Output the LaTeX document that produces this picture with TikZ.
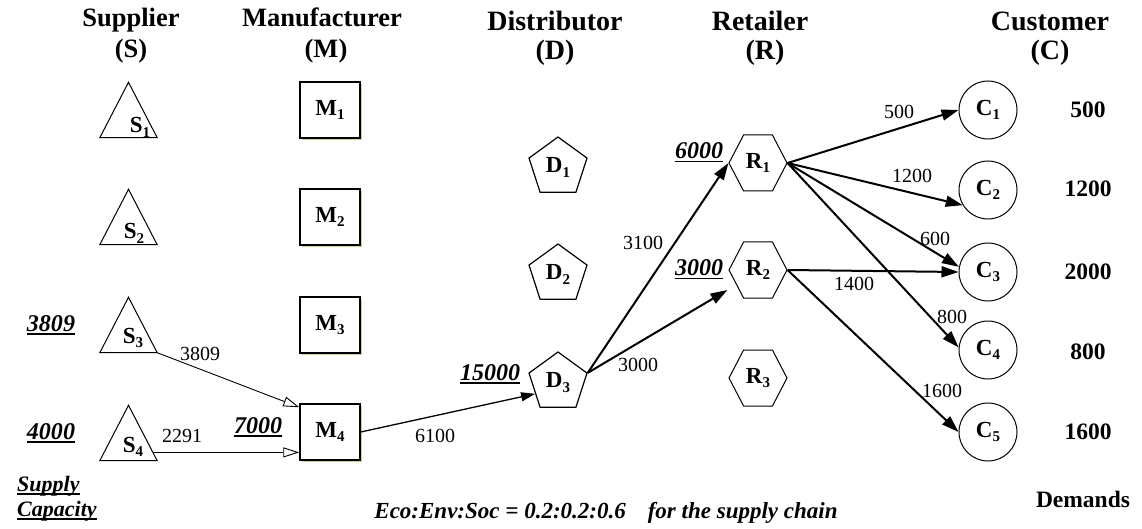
\documentclass[tikz,border=0pt]{standalone}
\usepackage{fontspec}
\setmainfont{Liberation Serif}
\usetikzlibrary{arrows.meta,shapes.geometric,shapes.symbols,shadows,calc}
\definecolor{shadegreen}{RGB}{195,214,155}
\newcommand\sbs[1]{\raisebox{-4.5pt}{\fontsize{15}{15}\selectfont #1}}
\newcommand\capu[1]{\setbox0\hbox{#1}\rlap{\rule[-3.5pt]{\wd0}{1.8pt}}\box0}
\tikzset{
  ttl/.style={font=\fontsize{26.5}{28}\selectfont\bfseries, anchor=base, inner sep=0},
  ttlb/.style={font=\fontsize{28}{30}\selectfont\bfseries, anchor=base, inner sep=0},
  lab/.style={font=\fontsize{23}{25}\selectfont\bfseries, inner sep=0},
  capn/.style={font=\fontsize{24}{26}\selectfont\bfseries\itshape, anchor=base, inner sep=0},
  flow/.style={font=\fontsize{20}{22}\selectfont, anchor=base, inner sep=0},
  dem/.style={font=\fontsize{23.5}{25}\selectfont\bfseries, anchor=base, inner sep=0},
  sq/.style={draw, line width=1.5pt, minimum width=60pt, minimum height=56pt, inner sep=0, fill=white,
     general shadow={fill=shadegreen, shadow xshift=2pt, shadow yshift=-2pt}, lab},
  tribox/.style={minimum width=57pt, minimum height=55pt, inner sep=0},
  tri/.style={line width=1pt, line join=miter},
  pent/.style={draw, regular polygon, regular polygon sides=5, minimum size=61pt, inner sep=0, line width=1.2pt, lab},
  hex/.style={draw, signal, signal to=east and west, signal pointer angle=125, minimum width=58pt, minimum height=56pt, inner sep=0, line width=1pt, lab},
  cust/.style={draw, circle, minimum size=58pt, inner sep=0, line width=1pt, lab},
  bigarr/.style={line width=2pt, -{Triangle[length=17pt,width=11pt]}},
  midarr/.style={line width=1.3pt, -{Triangle[length=14pt,width=9pt]}},
  openarr/.style={line width=0.9pt, -{Triangle[open,length=16pt,width=10pt,fill=white]}}
}
\begin{document}
\begin{tikzpicture}[x=1pt,y=-1pt]
\useasboundingbox (0,0) rectangle (1142,529);
% titles
\node[ttl] (tS) at (131,27) {Supplier};
\node[ttl] (tS2) at (131,58) {(S)};
\node[ttl] (tM) at (322,27) {Manufacturer};
\node[ttl] (tM2) at (326,58) {(M)};
\node[ttlb] (tD) at (555,31) {Distributor};
\node[ttlb] (tD2) at (555,60) {(D)};
\node[ttlb] (tR) at (760,31) {Retailer};
\node[ttlb] (tR2) at (765,60) {(R)};
\node[ttlb] (tC) at (1050,31) {Customer};
\node[ttlb] (tC2) at (1050,60) {(C)};
% suppliers
\foreach \i/\y in {1/110,2/217,3/325,4/433}{
  \node[tribox] (S\i) at (128.5,\y) {};
  \draw[tri] (S\i.south west) -- (S\i.north) -- (S\i.south east) -- cycle;
}
\node[lab, anchor=base] (S1t) at (140,133) {S\sbs{1}};
\node[lab, anchor=base] (S2t) at (134,239) {S\sbs{2}};
\node[lab, anchor=base] (S3t) at (133,343) {S\sbs{3}};
\node[lab, anchor=base] (S4t) at (133,452) {S\sbs{4}};
% manufacturers
\node[sq] (M1) at (330,110) {M\sbs{1}};
\node[sq] (M2) at (330,217) {M\sbs{2}};
\node[sq] (M3) at (330,325) {M\sbs{3}};
\node[sq] (M4) at (330,432) {M\sbs{4}};
% distributors
\node[pent] (D1) at (558,167.5) {D\sbs{1}};
\node[pent] (D2) at (558,274.5) {D\sbs{2}};
\node[pent] (D3) at (558,382.5) {D\sbs{3}};
% retailers
\node[hex] (R1) at (758,163) {R\sbs{1}};
\node[hex] (R2) at (758,270) {R\sbs{2}};
\node[hex] (R3) at (758,378) {R\sbs{3}};
% customers
\node[cust] (C1) at (988,110) {C\sbs{1}};
\node[cust] (C2) at (988,190) {C\sbs{2}};
\node[cust] (C3) at (988,272) {C\sbs{3}};
\node[cust] (C4) at (988,350) {C\sbs{4}};
\node[cust] (C5) at (988,432) {C\sbs{5}};
% connectors
\draw[openarr] (S3.south east) -- ($(M4.north west)+(0,4)$);
\coordinate (s4o) at ($(S4.south east)!0.15!(S4.north)$);
\draw[openarr] (s4o) -- (s4o -| M4.west);
\draw[midarr] (M4.east) -- ($(D3.corner 2)!0.6!(D3.corner 3)$);
\draw[bigarr] (D3.corner 5) -- (R1.west);
\draw[bigarr] (D3.corner 5) -- ($(R2.west)+(-1,20)$);
\draw[bigarr] (R1.east) -- (C1.west);
\draw[bigarr] (R1.east) -- (C2.211);
\draw[bigarr] (R1.east) -- (C3.170);
\draw[bigarr] (R1.east) -- (C4.175);
\draw[bigarr] (R2.east) -- (C3.west);
\draw[bigarr] (R2.east) -- (C5.west);
% flow labels
\node[flow] (f1) at (200,360) {3809};
\node[flow] (f2) at (182,442) {2291};
\node[flow] (f3) at (435,442) {6100};
\node[flow] (f4) at (643,250) {3100};
\node[flow] (f5) at (638,371) {3000};
\node[flow] (f6) at (899,119) {500};
\node[flow] (f7) at (912,183) {1200};
\node[flow] (f8) at (935,245) {600};
\node[flow] (f9) at (854,290) {1400};
\node[flow] (f10) at (952,323) {800};
\node[flow] (f11) at (942,397) {1600};
% capacities
\node[capn] (k1) at (51,331) {\capu{3809}};
\node[capn] (k2) at (51,439) {\capu{4000}};
\node[capn] (k3) at (258,433) {\capu{7000}};
\node[capn] (k4) at (490,380) {\capu{15000}};
\node[capn] (k5) at (699,159) {\capu{6000}};
\node[capn] (k6) at (699,276) {\capu{3000}};
\node[capn, font=\fontsize{22}{24}\selectfont\bfseries\itshape, anchor=base west] (sup1) at (17,491) {\capu{Supply}};
\node[capn, font=\fontsize{22}{24}\selectfont\bfseries\itshape, anchor=base west] (sup2) at (17,516) {\capu{Capacity}};
% demands
\node[dem] (d1) at (1088,118) {500};
\node[dem] (d2) at (1088,197) {1200};
\node[dem] (d3) at (1088,279) {2000};
\node[dem] (d4) at (1088,359) {800};
\node[dem] (d5) at (1088,439) {1600};
\node[dem] (dd) at (1083,507) {Demands};
% bottom text
\node[capn, font=\fontsize{23}{25}\selectfont\bfseries\itshape] (eco) at (606,518) {Eco:Env:Soc = 0.2:0.2:0.6\hspace{22pt}for the supply chain};
\end{tikzpicture}
\end{document}
